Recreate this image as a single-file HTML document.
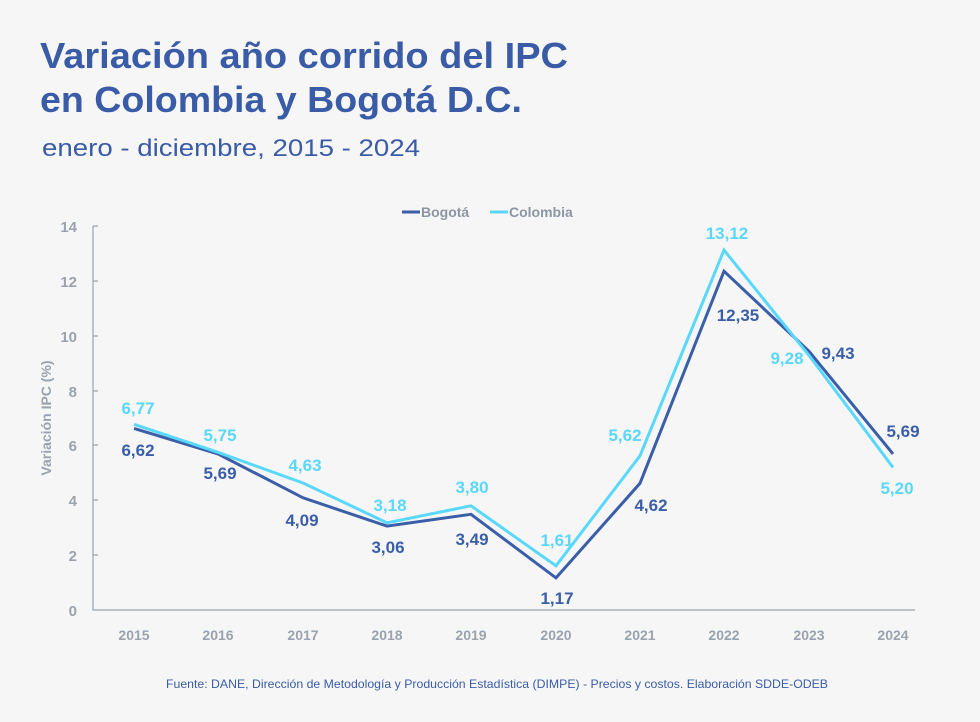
<!DOCTYPE html>
<html><head><meta charset="utf-8"><style>
body{margin:0;background:#f6f6f6;}
svg{display:block;font-family:"Liberation Sans",sans-serif;}
</style></head><body>
<svg width="980" height="722" viewBox="0 0 980 722">
<rect width="980" height="722" fill="#f6f6f6"/>
<text x="40" y="68" font-size="36" font-weight="bold" fill="#3a5ca6" textLength="528" lengthAdjust="spacingAndGlyphs">Variación año corrido del IPC</text>
<text x="40" y="112" font-size="36" font-weight="bold" fill="#3a5ca6" textLength="482" lengthAdjust="spacingAndGlyphs">en Colombia y Bogotá D.C.</text>
<text x="42" y="156" font-size="24" fill="#3a5ca6" textLength="378" lengthAdjust="spacingAndGlyphs">enero - diciembre, 2015 - 2024</text>
<line x1="402" y1="212" x2="420" y2="212" stroke="#3a5ea8" stroke-width="3"/>
<text x="421" y="217" font-size="14" font-weight="bold" fill="#8c96a3">Bogotá</text>
<line x1="490" y1="212" x2="508" y2="212" stroke="#5ad8fb" stroke-width="3"/>
<text x="509" y="217" font-size="14" font-weight="bold" fill="#8c96a3">Colombia</text>
<g stroke="#9aa3ad" stroke-width="1.2" fill="none">
<path d="M93 226V610H915"/>
<path d="M93 226h5M93 281h5M93 336h5M93 391h5M93 445h5M93 500h5M93 555h5"/>
</g>
<g font-size="15" font-weight="bold" fill="#9aa3ad" text-anchor="end">
<text x="77" y="232">14</text><text x="77" y="287">12</text><text x="77" y="342">10</text>
<text x="77" y="397">8</text><text x="77" y="451">6</text><text x="77" y="506">4</text>
<text x="77" y="561">2</text><text x="77" y="616">0</text>
</g>
<text transform="translate(51 418) rotate(-90)" font-size="14" font-weight="bold" fill="#9aa3ad" text-anchor="middle">Variación IPC (%)</text>
<g font-size="14" font-weight="bold" fill="#9aa3ad" text-anchor="middle">
<text x="134" y="640">2015</text><text x="218" y="640">2016</text><text x="303" y="640">2017</text>
<text x="387" y="640">2018</text><text x="471" y="640">2019</text><text x="556" y="640">2020</text>
<text x="640" y="640">2021</text><text x="724" y="640">2022</text><text x="809" y="640">2023</text>
<text x="893" y="640">2024</text>
</g>
<polyline fill="none" stroke="#3a5ea8" stroke-width="3" points="134,428.4 218,453.9 303,497.8 387,526.1 471,514.3 556,577.9 640,483.3 724,271.2 809,351.3 893,453.9"/>
<polyline fill="none" stroke="#5ad8fb" stroke-width="3" points="134,424.3 218,452.3 303,483 387,522.8 471,505.8 556,565.8 640,455.8 724,250.1 809,355.4 893,467.4"/>
<g font-size="17" font-weight="bold" fill="#5ad8fb" text-anchor="middle">
<text x="138" y="414">6,77</text><text x="220" y="441">5,75</text><text x="305" y="471">4,63</text>
<text x="390" y="511">3,18</text><text x="472" y="493">3,80</text><text x="557" y="546">1,61</text>
<text x="625" y="441">5,62</text><text x="727" y="239">13,12</text><text x="787" y="364">9,28</text>
<text x="897" y="494">5,20</text>
</g>
<g font-size="17" font-weight="bold" fill="#3a5ea8" text-anchor="middle">
<text x="138" y="456">6,62</text><text x="220" y="479">5,69</text><text x="302" y="526">4,09</text>
<text x="388" y="553">3,06</text><text x="472" y="545">3,49</text><text x="557" y="604">1,17</text>
<text x="651" y="511">4,62</text><text x="738" y="321">12,35</text><text x="838" y="359">9,43</text>
<text x="903" y="437">5,69</text>
</g>
<text x="166" y="688" font-size="12" fill="#3a5ca6" textLength="662" lengthAdjust="spacingAndGlyphs">Fuente: DANE, Dirección de Metodología y Producción Estadística (DIMPE) - Precios y costos. Elaboración SDDE-ODEB</text>
</svg>
</body></html>
